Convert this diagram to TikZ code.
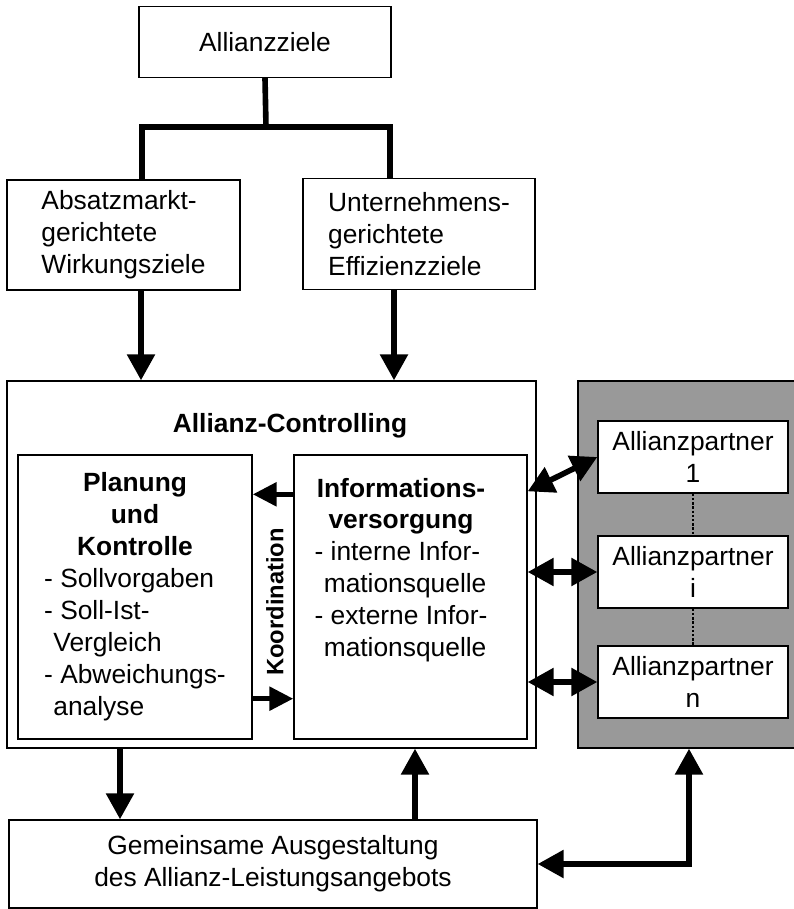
\documentclass[tikz,border=0pt]{standalone}
\usepackage{fontspec}
\setmainfont{Liberation Sans}
\usetikzlibrary{arrows.meta,calc}
\definecolor{partnergrau}{gray}{0.6}
\begin{document}
\begin{tikzpicture}[x=0.02cm,y=-0.02cm,font=\fontsize{15}{18.2}\selectfont] % 1 unit = 1 px
\tikzstyle{kasten} = [draw, line width=0.8pt, fill=white, inner sep=0pt] % plain box
\tikzstyle{conn} = [line width=3.2pt, line join=miter] % thick connector
\tikzstyle{arr} = [conn, -{Triangle[length=0.52cm,width=0.54cm]}] % single arrow
\tikzstyle{dbl} = [conn, {Triangle[length=0.52cm,width=0.54cm]}-{Triangle[length=0.52cm,width=0.54cm]}] % double arrow
\tikzstyle{koord} = [conn, -{Triangle[length=0.48cm,width=0.46cm]}] % small arrows between the two inner boxes
\tikzstyle{partner} = [kasten, minimum width=3.8cm, minimum height=1.44cm, align=center] % partner box

\useasboundingbox (0,0) rectangle (794,909);

% Ziele
\node[kasten, minimum width=5.04cm, minimum height=1.42cm] (ziele) at (265,42) {Allianzziele};
\node[kasten, minimum width=4.66cm, minimum height=2.2cm, align=left] (absatz) at (123.5,235) {Absatzmarkt-\\gerichtete\\Wirkungsziele};
\node[kasten, minimum width=4.64cm, minimum height=2.22cm, align=left] (unternehmen) at (419,234) {Unternehmens-\\gerichtete\\Effizienzziele};

% Allianz-Controlling
\node[kasten, minimum width=10.58cm, minimum height=7.34cm] (ctrl) at (271.5,564.5) {};
\node[anchor=base, font=\fontsize{15}{18.2}\selectfont\bfseries] (ctrltitel) at (290,432) {Allianz-Controlling};
\node[kasten, minimum width=4.68cm, minimum height=5.68cm] (planung) at (135,597) {\begin{tabular}{@{}l@{}}
  \multicolumn{1}{@{}c@{}}{\bfseries Planung}\\
  \multicolumn{1}{@{}c@{}}{\bfseries und}\\
  \multicolumn{1}{@{}c@{}}{\bfseries Kontrolle}\\
  - Sollvorgaben\\
  - Soll-Ist-\\
  \hspace{0.35em}Vergleich\\
  - Abweichungs-\\
  \hspace{0.35em}analyse
\end{tabular}};
\node[kasten, minimum width=4.66cm, minimum height=5.68cm] (info) at (410.5,597) {};
\node[anchor=base, inner sep=0pt] (infotext) at (401,497) {\begin{tabular}[t]{@{}l@{}}
  \multicolumn{1}{@{}c@{}}{\bfseries Informations-}\\
  \multicolumn{1}{@{}c@{}}{\bfseries versorgung}\\
  - interne Infor-\\
  \hspace{0.35em}mationsquelle\\
  - externe Infor-\\
  \hspace{0.35em}mationsquelle
\end{tabular}};
\node[rotate=90, font=\fontsize{13.5}{16}\selectfont\bfseries] (koordination) at (275,602) {Koordination};

% Allianzpartner
\node[draw, line width=0.8pt, fill=partnergrau, minimum width=4.44cm, minimum height=7.34cm, inner sep=0pt] (grau) at (689,564.5) {};
\node[partner] (p1) at (693,457) {Allianzpartner\\1};
\node[partner] (pi) at (693,572) {Allianzpartner\\i};
\node[partner] (pn) at (693,682) {Allianzpartner\\n};
\draw[densely dotted, line width=1.4pt] (p1.south) -- (pi.north) (pi.south) -- (pn.north);

% Leistungsangebot
\node[kasten, minimum width=10.56cm, minimum height=1.76cm, align=center] (gem) at (273,864) {Gemeinsame Ausgestaltung\\des Allianz-Leistungsangebots};

% Verbindungen
\coordinate (gabel) at (266,127);
\draw[conn] (ziele.south) -- (gabel);
\draw[conn] ($(absatz.north)+(18.5,0)$) |- (gabel) -| ($(unternehmen.north)+(-29,0)$);
\draw[arr] ($(absatz.south)+(17.5,0)$) coordinate (a1) -- (a1 |- ctrl.north);
\draw[arr] ($(unternehmen.south)+(-25,0)$) coordinate (u1) -- (u1 |- ctrl.north);
\draw[koord] ($(info.north west)+(0,40)$) -- ($(planung.north east)+(0,40)$);
\draw[koord] ($(planung.south east)+(0,-41)$) -- ($(info.south west)+(0,-41)$);
\draw[dbl] ($(info.north east)+(0,37)$) -- (p1.west);
\draw[dbl] (pi.west -| info.east) -- (pi.west);
\draw[dbl] (pn.west -| info.east) -- (pn.west);
\draw[arr] ($(ctrl.south)+(-151.5,0)$) coordinate (c1) -- (c1 |- gem.north);
\draw[arr] ($(gem.north)+(142,0)$) coordinate (g1) -- (g1 |- ctrl.south);
\draw[dbl] (gem.east) -| (grau.south);
\end{tikzpicture}
\end{document}
